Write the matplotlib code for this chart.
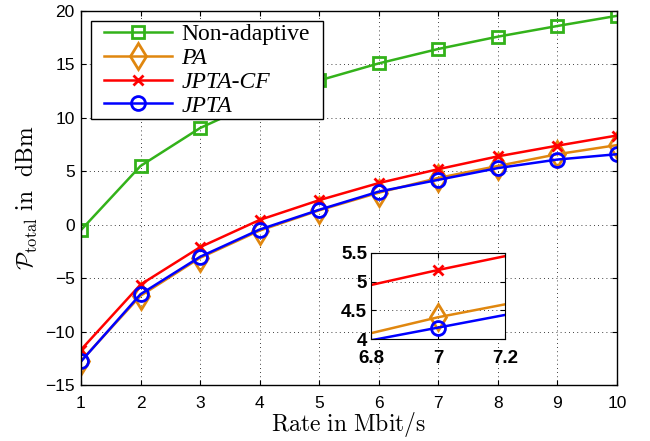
import numpy as np
import matplotlib
matplotlib.use('Agg')
import matplotlib.pyplot as plt

plt.rcParams['mathtext.fontset'] = 'cm'

# data
rate = [1, 2, 3, 4, 5, 6, 7, 8, 9, 10]
non_adaptive = [-0.5, 5.5, 9.05, 11.6, 13.5, 15.1, 16.45, 17.6, 18.6, 19.55]
pa = [-12.75, -6.65, -3.1, -0.55, 1.35, 3.0, 4.38, 5.5, 6.6, 7.45]
jpta_cf = [-11.7, -5.6, -2.1, 0.45, 2.3, 3.9, 5.2, 6.4, 7.4, 8.35]
jpta = [-12.8, -6.5, -3.0, -0.45, 1.4, 3.1, 4.2, 5.3, 6.1, 6.6]

labels = ['Non-adaptive', 'PA', 'JPTA-CF', 'JPTA']
x_ticks = [1, 2, 3, 4, 5, 6, 7, 8, 9, 10]
y_ticks = [-15, -10, -5, 0, 5, 10, 15, 20]
inset_xticks = [6.8, 7, 7.2]
inset_yticks = [4, 4.5, 5, 5.5]

green = '#33b21a'
orange = '#e0870f'

styles = [
    (non_adaptive, green, 's', 8.5),
    (pa, orange, 'd', 13),
    (jpta_cf, 'red', 'x', 7),
    (jpta, 'blue', 'o', 10),
]

fig = plt.figure(figsize=(6.5, 4.41), dpi=100)
ax = fig.add_axes([0.1246, 0.127, 0.8246, 0.848])

for (vals, col, mk, ms), lab in zip(styles, labels):
    ax.plot(rate, vals, color=col, marker=mk, markersize=ms, lw=1.8,
            markerfacecolor='none', markeredgewidth=2, label=lab)

ax.set_xlim(1, 10)
ax.set_ylim(-15, 20)
ax.set_xticks(x_ticks)
ax.set_yticks(y_ticks)
ax.grid(True, color='black', linestyle=(0, (1, 4)), linewidth=0.6)
ax.tick_params(direction='in', labelsize=12.5, top=True, right=True)
ax.tick_params(axis='x', pad=8)
ax.tick_params(axis='y', pad=4.5)
for t in ax.get_xticklabels() + ax.get_yticklabels():
    t.set_family('Liberation Sans')
ax.set_xlabel(r'$\mathrm{Rate\ in\ Mbit/s}$', fontsize=17, labelpad=-1)
ax.set_ylabel(r'$\mathcal{P}_{\mathrm{total}}\ \mathrm{in}\ \ \mathrm{dBm}$',
              fontsize=17, labelpad=4)
for s in ax.spines.values():
    s.set_linewidth(1.0)

leg = ax.legend(loc='upper left', bbox_to_anchor=(0.0384, 0.973),
                prop={'family': 'Liberation Serif', 'size': 17},
                fancybox=False, edgecolor='black', framealpha=1,
                labelspacing=0.1, handlelength=2.9, handletextpad=0.38,
                borderpad=0.1, borderaxespad=0)
frame = leg.get_frame()
frame.set_linewidth(1.0)
# wider side padding than top/bottom padding, like the reference box
frame.set_boxstyle('square', pad=0.45)
frame.set_mutation_aspect(0.01)
for t in leg.get_texts()[1:]:
    t.set_style('italic')

# zoomed inset around rate 7
axin = fig.add_axes([0.571, 0.231, 0.206, 0.196])
for (vals, col, mk, ms), lab in zip(styles[1:], labels[1:]):
    axin.plot(rate, vals, color=col, marker=mk, markersize=ms, lw=1.8,
              markerfacecolor='none', markeredgewidth=2)
axin.set_xlim(6.8, 7.2)
axin.set_ylim(4, 5.5)
axin.set_xticks(inset_xticks)
axin.set_xticklabels(['6.8', '7', '7.2'])
axin.set_yticks(inset_yticks)
axin.set_yticklabels(['4', '4.5', '5', '5.5'])
axin.grid(True, color='black', linestyle=(0, (1, 4)), linewidth=0.6)
axin.tick_params(direction='in', labelsize=13.5, top=True, right=True)
axin.tick_params(axis='x', pad=8)
axin.tick_params(axis='y', pad=3)
for t in axin.get_xticklabels() + axin.get_yticklabels():
    t.set_family('Liberation Sans')
    t.set_weight('bold')

fig.savefig('out.png', dpi=100)
